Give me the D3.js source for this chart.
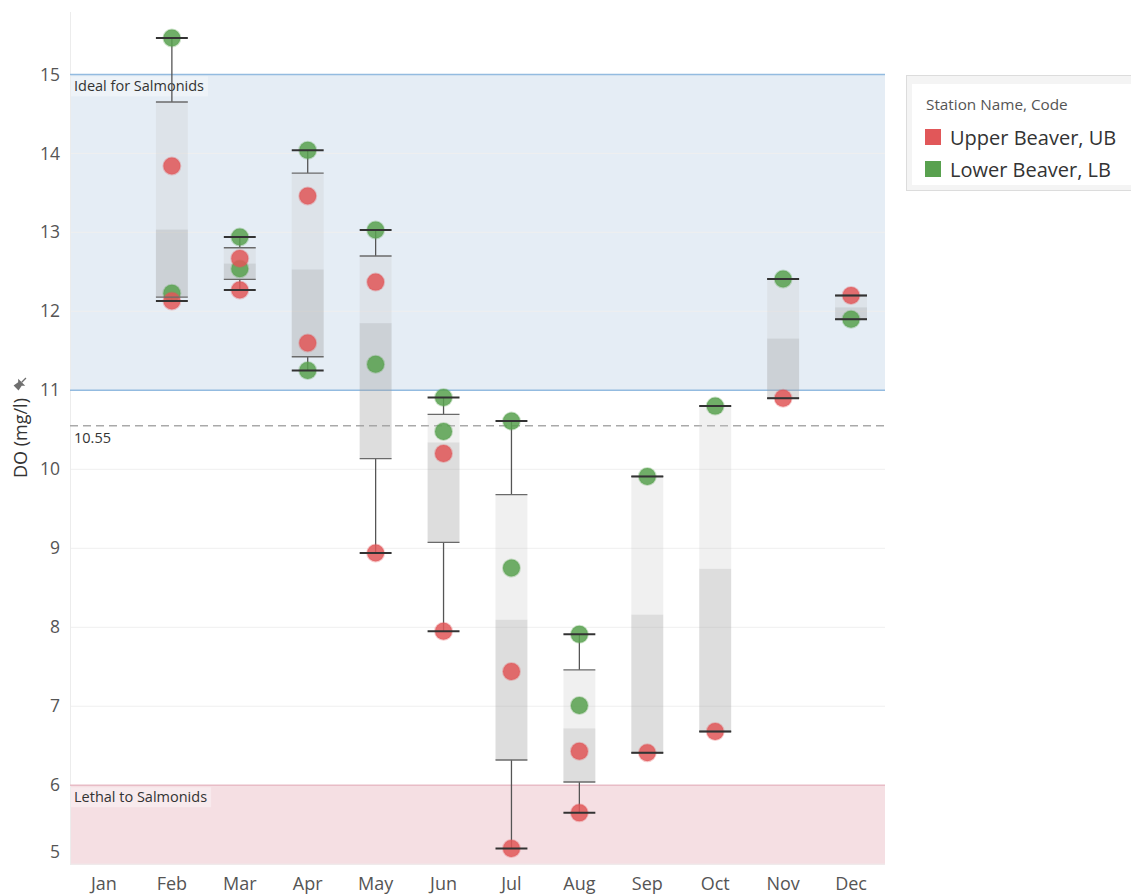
<!DOCTYPE html>
<html>
<head>
<meta charset="utf-8">
<script src="https://cdn.jsdelivr.net/npm/d3@7"></script>
<style>
  html, body { margin: 0; padding: 0; background: #fff; }
  svg { display: block; font-family: "Open Sans", "Noto Sans", sans-serif; }
</style>
</head>
<body>
<svg id="chart" width="1131" height="895"></svg>
<script>
// Monthly dissolved oxygen readings (mg/l) per station
const months = ["Jan", "Feb", "Mar", "Apr", "May", "Jun", "Jul", "Aug", "Sep", "Oct", "Nov", "Dec"];
const upperBeaver = [[], [13.84, 12.13], [12.67, 12.27], [13.46, 11.60], [12.37, 8.94], [10.20, 7.95],
                     [7.44, 5.20], [6.43, 5.65], [6.41], [6.68], [10.90], [12.20]];
const lowerBeaver = [[], [15.46, 12.23], [12.94, 12.54], [14.04, 11.25], [13.03, 11.33], [10.91, 10.48],
                     [10.61, 8.75], [7.91, 7.01], [9.91], [10.80], [12.41], [11.90]];
const stationNames = ["Upper Beaver, UB", "Lower Beaver, LB"];
const stationColors = ["#e15759", "#59a14f"];
const yTicks = [5, 6, 7, 8, 9, 10, 11, 12, 13, 14, 15];
const idealRange = [11, 15];      // ideal for salmonids
const lethalLimit = 6;            // lethal to salmonids below this

const svg = d3.select("#chart");
const pane = { left: 70, right: 885, top: 12, bottom: 865 };

const x = d3.scaleBand().domain(months).range([pane.left, pane.right]);
const y = d3.scaleLinear().domain([4.99, 15.79]).range([pane.bottom, pane.top]);
const boxW = x.bandwidth() * 0.47;

// Reference bands
svg.append("rect")
  .attr("x", pane.left).attr("width", pane.right - pane.left)
  .attr("y", y(idealRange[1])).attr("height", y(idealRange[0]) - y(idealRange[1]))
  .attr("fill", "#e5edf5");
svg.append("rect")
  .attr("x", pane.left).attr("width", pane.right - pane.left)
  .attr("y", y(lethalLimit)).attr("height", pane.bottom - y(lethalLimit))
  .attr("fill", "#f5dfe3");

// Gridlines
svg.append("g").selectAll("line").data(yTicks.filter(t => t !== 15 && t !== 11 && t !== 6)).join("line")
  .attr("x1", pane.left).attr("x2", pane.right)
  .attr("y1", d => y(d)).attr("y2", d => y(d))
  .attr("stroke", "#efefef").attr("stroke-width", 1);

// Pane left edge
svg.append("line")
  .attr("x1", pane.left + 0.5).attr("x2", pane.left + 0.5)
  .attr("y1", pane.top).attr("y2", pane.bottom)
  .attr("stroke", "#ececec");

// Band edges
svg.append("g").selectAll("line").data(idealRange).join("line")
  .attr("x1", pane.left).attr("x2", pane.right)
  .attr("y1", d => y(d)).attr("y2", d => y(d))
  .attr("stroke", "#93bbe0").attr("stroke-width", 1.5);
svg.append("line")
  .attr("x1", pane.left).attr("x2", pane.right)
  .attr("y1", y(lethalLimit)).attr("y2", y(lethalLimit))
  .attr("stroke", "#e8bcc6").attr("stroke-width", 1.5);

// Band labels
function bandLabel(text, value) {
  const g = svg.append("g");
  const t = g.append("text")
    .attr("x", pane.left + 4).attr("y", y(value) + 17)
    .attr("font-size", 14.5).attr("fill", "#333").text(text);
  const bb = t.node().getBBox();
  g.insert("rect", "text")
    .attr("x", pane.left + 1).attr("y", y(value) + 2)
    .attr("width", bb.width + 7).attr("height", 20)
    .attr("fill", "#fff").attr("fill-opacity", 0.35);
}
bandLabel("Ideal for Salmonids", idealRange[1]);
bandLabel("Lethal to Salmonids", lethalLimit);

// Average of all readings
const allValues = upperBeaver.flat().concat(lowerBeaver.flat());
const avg = d3.mean(allValues);
svg.append("line")
  .attr("x1", pane.left).attr("x2", pane.right)
  .attr("y1", y(avg)).attr("y2", y(avg))
  .attr("stroke", "#a9a9a9").attr("stroke-width", 1.5).attr("stroke-dasharray", "8,5");
svg.append("text")
  .attr("x", pane.left + 4).attr("y", y(avg) + 17)
  .attr("font-size", 14.5).attr("fill", "#333").text(d3.format(".2f")(avg));

// Box plot statistics: Tukey hinges, whiskers to the extremes within 1.5 IQR
function boxStats(values) {
  const v = values.slice().sort(d3.ascending);
  const n = v.length;
  const half = Math.floor(n / 2);
  const lower = v.slice(0, n % 2 ? half + 1 : half);
  const upper = v.slice(half);
  const q1 = d3.median(lower), q3 = d3.median(upper), med = d3.median(v);
  const iqr = q3 - q1;
  const lo = d3.min(v.filter(d => d >= q1 - 1.5 * iqr));
  const hi = d3.max(v.filter(d => d <= q3 + 1.5 * iqr));
  return { q1, q3, med, lo, hi };
}

const monthData = months.map((m, i) => ({
  month: m,
  values: upperBeaver[i].concat(lowerBeaver[i])
})).filter(d => d.values.length > 0)
  .map(d => Object.assign(d, boxStats(d.values)));

const boxes = svg.append("g");
// upper half of the box (median to upper hinge)
boxes.selectAll("rect.upper").data(monthData).join("rect")
  .attr("class", "upper")
  .attr("x", d => x(d.month) + (x.bandwidth() - boxW) / 2).attr("width", boxW)
  .attr("y", d => y(d.q3)).attr("height", d => y(d.med) - y(d.q3))
  .attr("fill", "#c8c8c8").attr("fill-opacity", 0.28);
// lower half of the box (lower hinge to median)
boxes.selectAll("rect.lower").data(monthData).join("rect")
  .attr("class", "lower")
  .attr("x", d => x(d.month) + (x.bandwidth() - boxW) / 2).attr("width", boxW)
  .attr("y", d => y(d.med)).attr("height", d => y(d.q1) - y(d.med))
  .attr("fill", "#a0a0a0").attr("fill-opacity", 0.36);

// whisker stems
const cx = d => x(d.month) + x.bandwidth() / 2;
boxes.selectAll("line.upstem").data(monthData).join("line")
  .attr("x1", cx).attr("x2", cx)
  .attr("y1", d => y(d.hi)).attr("y2", d => y(d.q3))
  .attr("stroke", "#555").attr("stroke-width", 1.3);
boxes.selectAll("line.downstem").data(monthData).join("line")
  .attr("x1", cx).attr("x2", cx)
  .attr("y1", d => y(d.q1)).attr("y2", d => y(d.lo))
  .attr("stroke", "#555").attr("stroke-width", 1.3);

// Station readings
const points = [];
[lowerBeaver, upperBeaver].forEach((series, s) => {
  const color = s === 0 ? stationColors[1] : stationColors[0];
  series.forEach((vals, i) => vals.forEach(v => points.push({ month: months[i], value: v, color })));
});
svg.append("g").selectAll("circle").data(points).join("circle")
  .attr("cx", cx).attr("cy", d => y(d.value)).attr("r", 8.5)
  .attr("fill", d => d.color).attr("fill-opacity", 0.86)
  .attr("stroke", d => d.color).attr("stroke-opacity", 0.3).attr("stroke-width", 2);

// hinge lines and whisker caps
const caps = svg.append("g");
monthData.forEach(d => {
  const x0 = x(d.month) + (x.bandwidth() - boxW) / 2;
  [d.q1, d.q3].forEach(v => caps.append("line")
    .attr("x1", x0).attr("x2", x0 + boxW).attr("y1", y(v)).attr("y2", y(v))
    .attr("stroke", "#6a6a6a").attr("stroke-width", 1.4));
  [d.lo, d.hi].forEach(v => caps.append("line")
    .attr("x1", x0).attr("x2", x0 + boxW).attr("y1", y(v)).attr("y2", y(v))
    .attr("stroke", "#333").attr("stroke-width", 2));
});

// Y axis labels (the bottom label is kept inside the pane)
svg.append("g").selectAll("text").data(yTicks).join("text")
  .attr("x", 60).attr("y", d => Math.min(y(d), pane.bottom - 13))
  .attr("dy", "0.35em").attr("text-anchor", "end")
  .attr("font-size", 17.5).attr("fill", "#555").text(d => d);

// Month labels
svg.append("g").selectAll("text").data(months).join("text")
  .attr("x", d => x(d) + x.bandwidth() / 2).attr("y", 884)
  .attr("dy", "0.35em").attr("text-anchor", "middle")
  .attr("font-size", 18).attr("fill", "#555").text(d => d);

// Y axis title with pin marker
const yTitle = svg.append("g").attr("transform", "translate(21,438) rotate(-90)");
yTitle.append("text").attr("x", 0).attr("y", 0).attr("dy", "0.35em")
  .attr("text-anchor", "middle").attr("font-size", 18).attr("fill", "#333").text("DO (mg/l)");
const pin = svg.append("g").attr("transform", "translate(21,383) rotate(-135)");
pin.append("path").attr("d", "M-3.5,-7 L3.5,-7 L2.5,-1.5 L5,1 L-5,1 L-2.5,-1.5 Z").attr("fill", "#6f6f6f");
pin.append("line").attr("x1", 0).attr("x2", 0).attr("y1", 1).attr("y2", 7)
  .attr("stroke", "#6f6f6f").attr("stroke-width", 1.3);

// Legend
const legend = svg.append("g");
legend.append("rect").attr("x", 906.5).attr("y", 75.5).attr("width", 240).attr("height", 115)
  .attr("fill", "#f4f4f4").attr("stroke", "#dcdcdc");
legend.append("rect").attr("x", 912).attr("y", 84).attr("width", 230).attr("height", 101)
  .attr("fill", "#fff");
legend.append("text").attr("x", 926).attr("y", 105).attr("dy", "0.35em")
  .attr("font-size", 15.3).attr("fill", "#555").text("Station Name, Code");
stationNames.forEach((name, i) => {
  legend.append("rect").attr("x", 925).attr("y", 129 + i * 32).attr("width", 16).attr("height", 16)
    .attr("fill", stationColors[i]);
  legend.append("text").attr("x", 950).attr("y", 138 + i * 32).attr("dy", "0.35em")
    .attr("font-size", 20).attr("fill", "#333").text(name);
});
</script>
</body>
</html>
